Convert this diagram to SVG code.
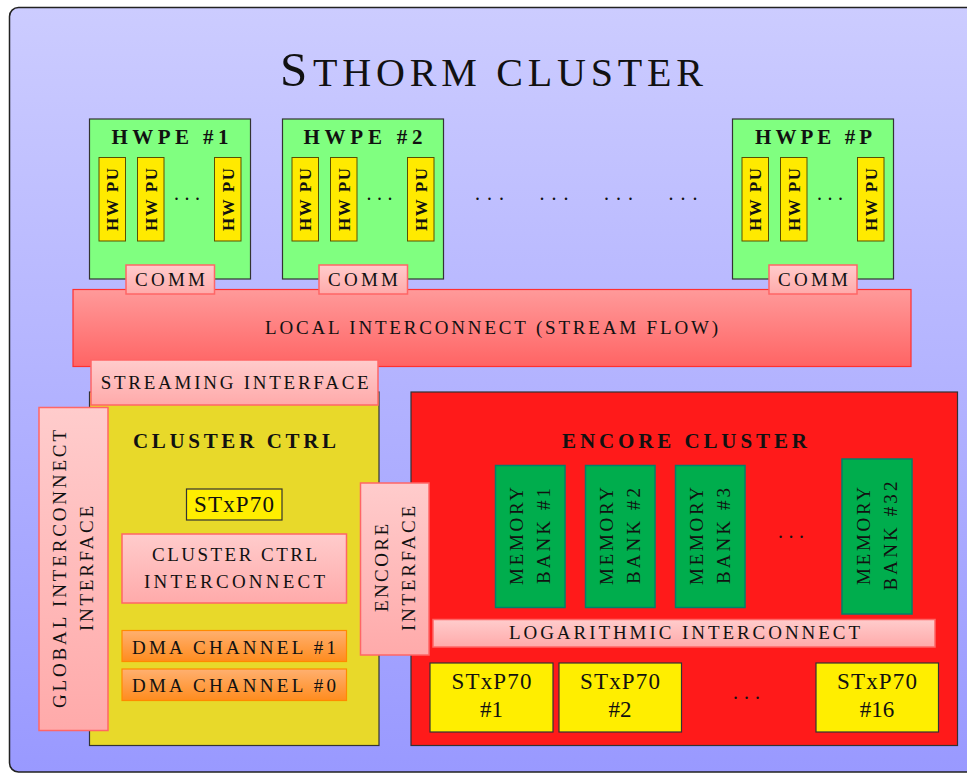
<svg xmlns="http://www.w3.org/2000/svg" width="967" height="773" viewBox="0 0 967 773">
<defs>
<linearGradient id="gBg" x1="0" y1="0" x2="0" y2="1"><stop offset="0" stop-color="#ccccff"/><stop offset="1" stop-color="#9999ff"/></linearGradient>
<linearGradient id="gPink" x1="0" y1="0" x2="0" y2="1"><stop offset="0" stop-color="#ffcccc"/><stop offset="1" stop-color="#ffaaaa"/></linearGradient>
<linearGradient id="gLocal" x1="0" y1="0" x2="0" y2="1"><stop offset="0" stop-color="#ff9a9a"/><stop offset="1" stop-color="#ff6464"/></linearGradient>
<linearGradient id="gDma" x1="0" y1="0" x2="0" y2="1"><stop offset="0" stop-color="#ffb070"/><stop offset="1" stop-color="#ff8c1e"/></linearGradient>
</defs>
<style>
text{font-family:"Liberation Serif","DejaVu Serif",serif;fill:#111;}
.sc{font-size:19px;text-anchor:middle;}
.hd{font-size:21px;font-weight:bold;text-anchor:middle;}
.hw{fill:#ffea00;stroke:#5a5000;stroke-width:1;}
.hwt{font-size:17px;font-weight:bold;text-anchor:middle;}
.hwpe{fill:#80ff80;stroke:#333;stroke-width:1.2;}
.pink{fill:url(#gPink);stroke:#ff6666;stroke-width:1.5;}
.mem{fill:#00ad4d;stroke:#00806a;stroke-width:1.5;}
.memt{font-size:19px;text-anchor:middle;}
.cpu{fill:#ffee00;stroke:#333;stroke-width:1.2;}
.cput{font-size:23px;text-anchor:middle;}
.dots{font-size:20px;}
</style>
<rect x="9.5" y="7.5" width="975" height="764.5" rx="9" fill="url(#gBg)" stroke="#222" stroke-width="1.5"/>
<g id="title">
<text x="280" y="86" font-size="49">S</text>
<text x="313" y="86" font-size="40" textLength="390" lengthAdjust="spacing">THORM CLUSTER</text>
</g>
<g id="hwpe1">
<rect class="hwpe" x="89.5" y="119" width="161" height="160"/>
<text class="hd" x="170" y="144" textLength="117" lengthAdjust="spacing">HWPE #1</text>
<rect class="hw" x="99" y="157.5" width="26.5" height="83.5"/>
<text class="hwt" transform="translate(118.3,199.5) rotate(-90)" textLength="63" lengthAdjust="spacing">HW PU</text>
<rect class="hw" x="137.5" y="157.5" width="26.5" height="83.5"/>
<text class="hwt" transform="translate(156.8,199.5) rotate(-90)" textLength="63" lengthAdjust="spacing">HW PU</text>
<text class="dots" x="174" y="200" textLength="26" lengthAdjust="spacing">. . .</text>
<rect class="hw" x="214.5" y="157.5" width="26.5" height="83.5"/>
<text class="hwt" transform="translate(233.8,199.5) rotate(-90)" textLength="63" lengthAdjust="spacing">HW PU</text>
</g>
<g id="hwpe2">
<rect class="hwpe" x="282.5" y="119" width="161" height="160"/>
<text class="hd" x="363" y="144" textLength="119" lengthAdjust="spacing">HWPE #2</text>
<rect class="hw" x="292" y="157.5" width="26.5" height="83.5"/>
<text class="hwt" transform="translate(311.3,199.5) rotate(-90)" textLength="63" lengthAdjust="spacing">HW PU</text>
<rect class="hw" x="330.5" y="157.5" width="26.5" height="83.5"/>
<text class="hwt" transform="translate(349.8,199.5) rotate(-90)" textLength="63" lengthAdjust="spacing">HW PU</text>
<text class="dots" x="366.5" y="200" textLength="26" lengthAdjust="spacing">. . .</text>
<rect class="hw" x="407.5" y="157.5" width="26.5" height="83.5"/>
<text class="hwt" transform="translate(426.8,199.5) rotate(-90)" textLength="63" lengthAdjust="spacing">HW PU</text>
</g>
<g id="hwpe-gap-dots">
<text class="dots" x="475" y="200" textLength="29" lengthAdjust="spacing">. . .</text>
<text class="dots" x="539.5" y="200" textLength="29" lengthAdjust="spacing">. . .</text>
<text class="dots" x="604" y="200" textLength="29" lengthAdjust="spacing">. . .</text>
<text class="dots" x="668.5" y="200" textLength="29" lengthAdjust="spacing">. . .</text>
</g>
<g id="hwpeP">
<rect class="hwpe" x="732.5" y="119" width="161" height="160"/>
<text class="hd" x="813.5" y="144" textLength="117" lengthAdjust="spacing">HWPE #P</text>
<rect class="hw" x="742" y="157.5" width="26.5" height="83.5"/>
<text class="hwt" transform="translate(761.3,199.5) rotate(-90)" textLength="63" lengthAdjust="spacing">HW PU</text>
<rect class="hw" x="780.5" y="157.5" width="26.5" height="83.5"/>
<text class="hwt" transform="translate(799.8,199.5) rotate(-90)" textLength="63" lengthAdjust="spacing">HW PU</text>
<text class="dots" x="817" y="200" textLength="26" lengthAdjust="spacing">. . .</text>
<rect class="hw" x="857.5" y="157.5" width="26.5" height="83.5"/>
<text class="hwt" transform="translate(876.8,199.5) rotate(-90)" textLength="63" lengthAdjust="spacing">HW PU</text>
</g>
<g id="local-interconnect">
<rect x="73" y="289.5" width="838" height="77" fill="url(#gLocal)" stroke="#ff3030" stroke-width="1.2"/>
<text class="sc" x="491.5" y="334" textLength="453" lengthAdjust="spacing">LOCAL INTERCONNECT (STREAM FLOW)</text>
</g>
<g id="comm1">
<rect class="pink" x="126" y="265" width="88.5" height="29"/>
<text class="sc" x="170" y="285.5" textLength="70" lengthAdjust="spacing">COMM</text>
</g>
<g id="comm2">
<rect class="pink" x="319" y="265" width="88.5" height="29"/>
<text class="sc" x="363" y="285.5" textLength="70" lengthAdjust="spacing">COMM</text>
</g>
<g id="commP">
<rect class="pink" x="769" y="265" width="88" height="29"/>
<text class="sc" x="813" y="285.5" textLength="70" lengthAdjust="spacing">COMM</text>
</g>
<g id="cluster-ctrl">
<rect x="89.5" y="392" width="289.5" height="353.5" fill="#e8d92a" stroke="#333" stroke-width="1.2"/>
<text class="hd" x="234.5" y="447.5" textLength="203" lengthAdjust="spacing">CLUSTER CTRL</text>
</g>
<g id="streaming-interface">
<rect class="pink" x="91" y="360" width="287" height="45"/>
<text class="sc" x="234.7" y="388.5" textLength="268" lengthAdjust="spacing">STREAMING INTERFACE</text>
</g>
<g id="global-interconnect-interface">
<rect class="pink" x="39" y="407.5" width="69" height="323"/>
<text class="sc" transform="translate(66,569) rotate(-90)" textLength="278" lengthAdjust="spacing">GLOBAL INTERCONNECT</text>
<text class="sc" transform="translate(93.3,568.5) rotate(-90)" textLength="125" lengthAdjust="spacing">INTERFACE</text>
</g>
<g id="ctrl-stxp70">
<rect class="cpu" x="186.5" y="489" width="95.5" height="31"/>
<text class="cput" x="234" y="512.3" textLength="80" lengthAdjust="spacing">STxP70</text>
</g>
<g id="cluster-ctrl-interconnect">
<rect class="pink" x="122" y="534" width="224.5" height="69"/>
<text class="sc" x="234.5" y="561" textLength="165" lengthAdjust="spacing">CLUSTER CTRL</text>
<text class="sc" x="234.5" y="588" textLength="181" lengthAdjust="spacing">INTERCONNECT</text>
</g>
<g id="dma1">
<rect x="122" y="630.5" width="224.5" height="31" fill="url(#gDma)" stroke="#ff8a00" stroke-width="1.2"/>
<text class="sc" x="234" y="654" textLength="204" lengthAdjust="spacing">DMA CHANNEL #1</text>
</g>
<g id="dma0">
<rect x="122" y="669" width="224.5" height="31.5" fill="url(#gDma)" stroke="#ff8a00" stroke-width="1.2"/>
<text class="sc" x="234" y="692.3" textLength="204" lengthAdjust="spacing">DMA CHANNEL #0</text>
</g>
<g id="encore-cluster">
<rect x="411" y="392" width="546.5" height="353.5" fill="#ff1a1a" stroke="#333" stroke-width="1.2"/>
<text class="hd" x="684.5" y="447.5" textLength="245" lengthAdjust="spacing">ENCORE CLUSTER</text>
</g>
<g id="encore-interface">
<rect class="pink" x="360.5" y="483" width="68.5" height="172"/>
<text class="sc" transform="translate(388.3,568) rotate(-90)" textLength="88" lengthAdjust="spacing">ENCORE</text>
<text class="sc" transform="translate(415,568.5) rotate(-90)" textLength="125" lengthAdjust="spacing">INTERFACE</text>
</g>
<g id="memory-bank-1">
<rect class="mem" x="495.5" y="465.5" width="69.5" height="142"/>
<text class="memt" transform="translate(522.7,536) rotate(-90)" textLength="98" lengthAdjust="spacing">MEMORY</text>
<text class="memt" transform="translate(550,536) rotate(-90)" textLength="96" lengthAdjust="spacing">BANK #1</text>
</g>
<g id="memory-bank-2">
<rect class="mem" x="585.5" y="465.5" width="69.5" height="142"/>
<text class="memt" transform="translate(612.7,536) rotate(-90)" textLength="98" lengthAdjust="spacing">MEMORY</text>
<text class="memt" transform="translate(640,536) rotate(-90)" textLength="96" lengthAdjust="spacing">BANK #2</text>
</g>
<g id="memory-bank-3">
<rect class="mem" x="675.5" y="465.5" width="69.5" height="142"/>
<text class="memt" transform="translate(702.7,536) rotate(-90)" textLength="98" lengthAdjust="spacing">MEMORY</text>
<text class="memt" transform="translate(730,536) rotate(-90)" textLength="96" lengthAdjust="spacing">BANK #3</text>
</g>
<text class="dots" x="778" y="538" textLength="26" lengthAdjust="spacing">. . .</text>
<g id="memory-bank-32">
<rect class="mem" x="842" y="459" width="70" height="155"/>
<text class="memt" transform="translate(870,536) rotate(-90)" textLength="98" lengthAdjust="spacing">MEMORY</text>
<text class="memt" transform="translate(897,536) rotate(-90)" textLength="109" lengthAdjust="spacing">BANK #32</text>
</g>
<g id="logarithmic-interconnect">
<rect class="pink" x="433" y="619.5" width="502" height="27.5"/>
<text class="sc" x="684.5" y="639" textLength="351" lengthAdjust="spacing">LOGARITHMIC INTERCONNECT</text>
</g>
<g id="stxp70-1">
<rect class="cpu" x="430" y="663" width="123" height="69"/>
<text class="cput" x="491.5" y="689" textLength="80" lengthAdjust="spacing">STxP70</text>
<text class="cput" x="491.5" y="717">#1</text>
</g>
<g id="stxp70-2">
<rect class="cpu" x="559" y="663" width="122.5" height="69"/>
<text class="cput" x="620" y="689" textLength="80" lengthAdjust="spacing">STxP70</text>
<text class="cput" x="620" y="717">#2</text>
</g>
<text class="dots" x="733" y="699" textLength="27" lengthAdjust="spacing">. . .</text>
<g id="stxp70-16">
<rect class="cpu" x="816" y="663" width="122.5" height="69"/>
<text class="cput" x="877" y="689" textLength="80" lengthAdjust="spacing">STxP70</text>
<text class="cput" x="877" y="717">#16</text>
</g>
<g id="connectors"/>
</svg>
